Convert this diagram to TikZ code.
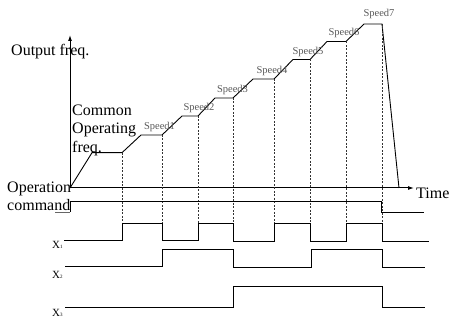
\documentclass[tikz,border=0pt]{standalone}
\usepackage{fontspec}
\setmainfont{Liberation Serif}
\usetikzlibrary{arrows.meta}
\begin{document}
\begin{tikzpicture}[x=1pt,y=-1pt,
  sig/.style={line width=0.9pt,black},
  axis/.style={line width=1pt,black,-{Latex[length=6pt,width=4pt]}},
  guide/.style={line width=0.8pt,black!80,dash pattern=on 2pt off 1.5pt},
  big/.style={inner sep=0pt,font=\fontsize{16}{16}\selectfont},
  spd/.style={inner sep=0pt,anchor=base,text=black!65,font=\fontsize{10.5}{10.5}\selectfont},
  xl/.style={inner sep=0pt,anchor=base west,font=\fontsize{11}{11}\selectfont}]
\useasboundingbox (0,0) rectangle (451,320);
% axes
\coordinate (O) at (70,188);
\coordinate (ytop) at (70,35);
\coordinate (xend) at (414,188);
\draw[axis] (O) -- (ytop);
\draw[axis] (O) -- (xend);
% texts
\node[big,anchor=base west] (outf) at (11,56) {Output freq.};
\node[big,anchor=base west] (time) at (416,199) {Time};
\node[big,anchor=base west] (c1) at (72,116) {Common};
\node[big,anchor=base west] (c2) at (72,133.5) {Operating};
\node[big,anchor=base west] (c3) at (72,152.5) {freq.};
\node[big,anchor=base west] (op1) at (7,193) {Operation};
\node[big,anchor=base west] (op2) at (7,210.5) {command};
% frequency curve
\draw[sig] (O) -- (92,152.7) -- (122,152.7) -- (141,135) -- (162,135) -- (182,116) -- (198,116)
  -- (215,98) -- (233,98) -- (253,79) -- (274,79) -- (293,59.5) -- (310,59.5)
  -- (327,41.5) -- (346,41.5) -- (364,24) -- (382,24) -- (399,188);
% speed labels
\node[spd] (s1) at (159.5,130) {Speed1};
\node[spd] (s2) at (199,111) {Speed2};
\node[spd] (s3) at (232.5,93) {Speed3};
\node[spd] (s4) at (272,74) {Speed4};
\node[spd] (s5) at (308,55) {Speed5};
\node[spd] (s6) at (344,36) {Speed6};
\node[spd] (s7) at (379,17) {Speed7};
% guides
\foreach \x/\y in {122/152.7,162/135,198/116,233/98,274/79,310/59.5,346/41.5,382/24}
  \draw[guide] (\x,\y) -- (\x,223);
% operation command
\draw[sig,black!60] (55,212) -- (70,212);
\draw[sig] (70,212) -- (70,201) -- (381,201) -- (381,212) -- (424,212);
% X1
\draw[sig] (64,240) -- (122,240) -- (122,223) -- (162,223) -- (162,240) -- (198,240) -- (198,223)
  -- (233,223) -- (233,241) -- (274,241) -- (274,223) -- (310,223) -- (310,241) -- (346,241)
  -- (346,223) -- (382,223) -- (382,241) -- (429,241);
% X2
\draw[sig] (65,266.7) -- (162,266.7) -- (162,249.3) -- (233,249.3) -- (233,267) -- (311,267)
  -- (311,249.3) -- (382,249.3) -- (382,267) -- (425,267);
% X3
\draw[sig] (65,307.3) -- (233,307.3) -- (233,286.7) -- (382,286.7) -- (382,307.3) -- (425,307.3);
% X labels
\node[xl] (x1) at (52,249) {X{\fontsize{5}{5}\selectfont 1}};
\node[xl] (x2) at (52,279) {X{\fontsize{5}{5}\selectfont 2}};
\node[xl] (x3) at (52,317) {X{\fontsize{5}{5}\selectfont 3}};
\end{tikzpicture}
\end{document}
